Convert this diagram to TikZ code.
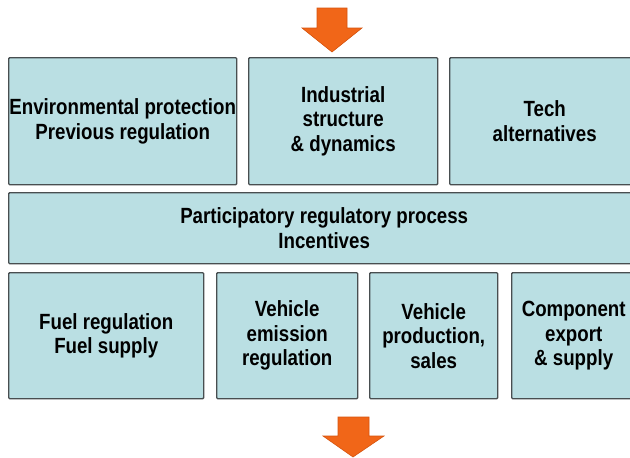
\documentclass[tikz,border=0pt]{standalone}
\usepackage{fontspec}
\setmainfont{Liberation Sans}[FakeStretch=0.85]
\begin{document}
\begin{tikzpicture}[x=1pt,y=-1pt,
  box/.style={draw=boxline, line width=1.4pt, fill=boxfill, rounded corners=1pt,
    anchor=north west, inner sep=0pt, align=center,
    font=\fontsize{22}{24.5}\selectfont\bfseries, text=black},
  flowarrow/.style={fill=arroworange, draw=arrowedge, line width=0.6pt, line join=miter}]
\definecolor{boxfill}{RGB}{186,223,227}
\definecolor{boxline}{RGB}{72,78,80}
\definecolor{arroworange}{RGB}{241,102,24}
\definecolor{arrowedge}{RGB}{214,84,14}
\useasboundingbox (0,0) rectangle (630,458);
\clip (0,0) rectangle (630,458);
\fill[white] (0,0) rectangle (630,458);

% incoming arrow
\draw[flowarrow] (317,8) -- (347,8) -- (347,28) -- (362,28) -- (332,52) -- (302,28) -- (317,28) -- cycle;

% upper row
\node[box, minimum width=228, minimum height=127] (env) at (8,57)
  {Environmental protection\\Previous regulation};
\node[box, minimum width=189, minimum height=127] (ind) at (248,57)
  {Industrial\\structure\\\& dynamics};
\node[box, minimum width=190, minimum height=127] (tech) at (449,57)
  {Tech\\alternatives};

% participatory process bar
\node[box, minimum width=631, minimum height=71] (proc) at (8,192)
  {Participatory regulatory process\\Incentives};

% lower row
\node[box, minimum width=195, minimum height=126] (fuel) at (8,272)
  {Fuel regulation\\Fuel supply};
\node[box, minimum width=141, minimum height=126] (emis) at (216,272)
  {Vehicle\\emission\\regulation};
\node[box, minimum width=128, minimum height=126] (prod) at (369,272)
  {Vehicle\\production,\\sales};
\node[box, minimum width=124, minimum height=126] (comp) at (511,272)
  {Component\\export\\\& supply};

% outgoing arrow
\draw[flowarrow] (338,417) -- (369,417) -- (369,436) -- (384,436) -- (353,457) -- (323,436) -- (338,436) -- cycle;
\end{tikzpicture}
\end{document}
